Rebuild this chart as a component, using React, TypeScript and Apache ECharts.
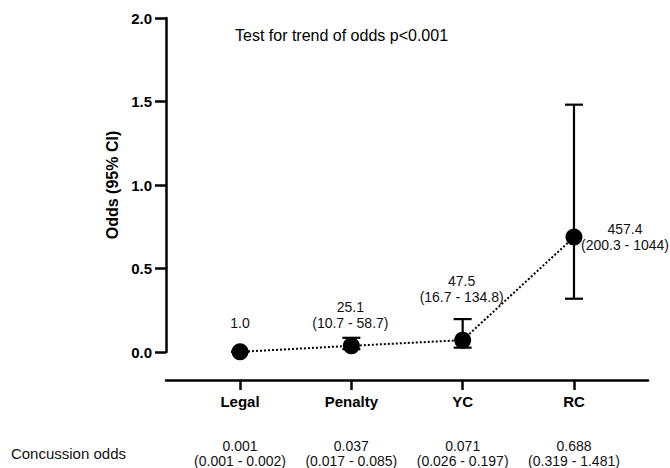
import React, { useEffect, useRef } from "react";
import * as echarts from "echarts";

const categories = ["Legal", "Penalty", "YC", "RC"];
const oddsValues = [0.001, 0.037, 0.071, 0.688];
const ciLow = [0.001, 0.017, 0.026, 0.319];
const ciHigh = [0.002, 0.085, 0.197, 1.481];
const oddsText = ["0.001", "0.037", "0.071", "0.688"];
const ciText = ["(0.001 - 0.002)", "(0.017 - 0.085)", "(0.026 - 0.197)", "(0.319 - 1.481)"];
const ratioText = ["1.0", "25.1", "47.5", "457.4"];
const ratioCiText = ["", "(10.7 - 58.7)", "(16.7 - 134.8)", "(200.3 - 1044)"];
const yTicks = [0, 0.5, 1.0, 1.5, 2.0];
const titleText = "Test for trend of odds p<0.001";

const FONT = "'Liberation Sans', Arial, Helvetica, sans-serif";
const INK = "#000";

export default function App() {
  const ref = useRef<HTMLDivElement>(null);

  useEffect(() => {
    if (!ref.current) return;
    const chart = echarts.init(ref.current, undefined, { renderer: "svg" });
    const idx = categories.map((_, i) => i);

    // label offsets (style) relative to point centre
    const labelOffsets: number[][] = [
      [0, -29],
      [-1, -31],
      [-1, -51],
      [51, 0],
    ];

    const option: any = {
      animation: false,
      textStyle: { fontFamily: FONT },
      title: {
        text: titleText,
        left: 230,
        top: 22,
        textStyle: { fontFamily: FONT, fontSize: 16, fontWeight: "normal", color: INK },
      },
      grid: { left: 166, top: 18, width: 482, height: 334, containLabel: false },
      yAxis: {
        type: "value",
        min: yTicks[0],
        max: yTicks[yTicks.length - 1],
        interval: 0.5,
        name: "Odds (95% CI)",
        nameLocation: "middle",
        nameRotate: 90,
        nameGap: 43,
        nameTextStyle: { fontFamily: FONT, fontSize: 16, fontWeight: "bold", color: INK },
        axisLine: { show: true, onZero: false, lineStyle: { color: INK, width: 2.5 } },
        axisTick: { show: true, length: 11, lineStyle: { color: INK, width: 2.5 } },
        axisLabel: {
          margin: 14,
          fontFamily: FONT,
          fontSize: 15,
          fontWeight: "bold",
          color: INK,
          formatter: (v: number) => v.toFixed(1),
        },
        splitLine: { show: false },
      },
      xAxis: [
        {
          type: "value",
          min: -0.665,
          max: 3.665,
          position: "bottom",
          offset: 28,
          axisLine: { show: true, onZero: false, lineStyle: { color: INK, width: 2.5 } },
          axisTick: { show: true, length: 10, customValues: idx, lineStyle: { color: INK, width: 2.5 } },
          axisLabel: {
            customValues: idx,
            margin: 14,
            fontFamily: FONT,
            fontSize: 15,
            fontWeight: "bold",
            color: INK,
            formatter: (v: number) => categories[Math.round(v)] ?? "",
          },
          splitLine: { show: false },
        },
        {
          type: "value",
          min: -0.665,
          max: 3.665,
          position: "bottom",
          offset: 101,
          name: "Concussion odds",
          nameLocation: "start",
          nameGap: 40,
          nameTextStyle: { fontFamily: FONT, fontSize: 15, color: "#111", verticalAlign: "middle" },
          axisLine: { show: false, onZero: false },
          axisTick: { show: false },
          axisLabel: {
            customValues: idx,
            margin: -15,
            fontFamily: FONT,
            fontSize: 14,
            lineHeight: 15,
            color: "#111",
            formatter: (v: number) => {
              const i = Math.round(v);
              return oddsText[i] + "\n" + ciText[i];
            },
          },
          splitLine: { show: false },
        },
      ],
      series: [
        {
          type: "line",
          xAxisIndex: 0,
          data: idx.map((i) => [i, oddsValues[i]]),
          symbol: "none",
          lineStyle: { color: INK, width: 2, type: [2, 2] },
          z: 2,
        },
        {
          type: "custom",
          xAxisIndex: 0,
          data: idx.map((i) => [i, ciLow[i], ciHigh[i]]),
          renderItem: (params: any, api: any) => {
            const x = api.value(0);
            const lo = api.coord([x, api.value(1)]);
            const hi = api.coord([x, api.value(2)]);
            const hw = 9;
            const style = { stroke: INK, lineWidth: 2.2 };
            return {
              type: "group",
              children: [
                { type: "line", shape: { x1: lo[0], y1: lo[1], x2: hi[0], y2: hi[1] }, style },
                { type: "line", shape: { x1: hi[0] - hw, y1: hi[1], x2: hi[0] + hw, y2: hi[1] }, style },
                { type: "line", shape: { x1: lo[0] - hw, y1: lo[1], x2: lo[0] + hw, y2: lo[1] }, style },
              ],
            };
          },
          z: 3,
        },
        {
          type: "scatter",
          xAxisIndex: 0,
          symbol: "circle",
          symbolSize: 17,
          itemStyle: { color: INK, opacity: 1 },
          emphasis: { disabled: true },
          z: 4,
          data: idx.map((i) => ({
            value: [i, oddsValues[i]],
            label: {
              show: true,
              position: "inside",
              offset: labelOffsets[i],
              align: "center",
              verticalAlign: "middle",
              fontFamily: FONT,
              fontSize: 14,
              lineHeight: 16,
              color: "#111",
              opacity: 1,
              formatter: ratioCiText[i] ? ratioText[i] + "\n" + ratioCiText[i] : ratioText[i],
            },
          })),
        },
      ],
    };

    chart.setOption(option);
    return () => chart.dispose();
  }, []);

  return (
    <div
      ref={ref}
      style={{ position: "fixed", left: 0, top: 0, width: 670, height: 468, background: "#fff" }}
    />
  );
}
